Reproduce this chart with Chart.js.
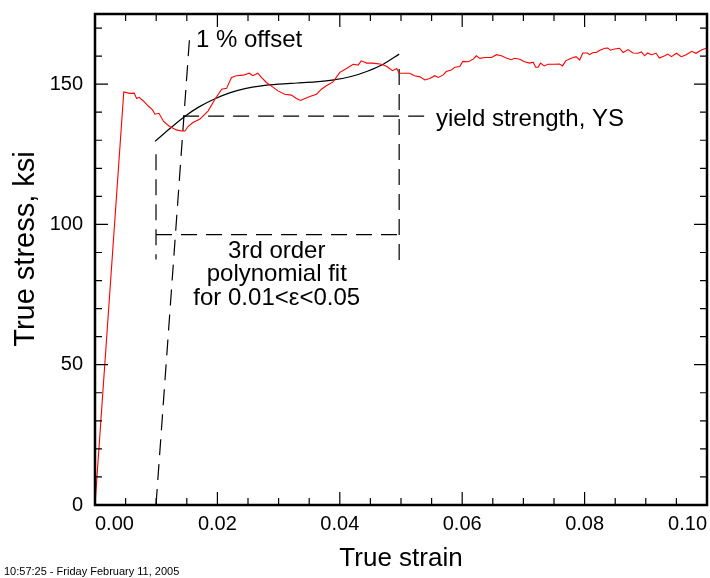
<!DOCTYPE html>
<html>
<head>
<meta charset="utf-8">
<script src="https://cdn.jsdelivr.net/npm/chart.js@4/dist/chart.umd.min.js"></script>
<style>
  body { margin: 0; background: #fff; }
  #wrap { width: 710px; height: 578px; }
</style>
</head>
<body>
<div id="wrap"><canvas id="grafica" width="710" height="578"></canvas></div>
<script>
// curva medida (deformación verdadera, esfuerzo verdadero en ksi)
const strain = [0, 0.0047, 0.0057, 0.0064, 0.0068, 0.0072, 0.0079, 0.0087, 0.0094, 0.0098, 0.01045,
  0.0112, 0.0122, 0.0133, 0.0142, 0.0147, 0.0152, 0.0160, 0.0171, 0.0174, 0.0185, 0.0196, 0.0207,
  0.0215, 0.0223, 0.0231, 0.0242, 0.0252, 0.0258, 0.0266, 0.0272, 0.0280, 0.0289, 0.0299, 0.0310,
  0.0321, 0.0329, 0.0336, 0.0343, 0.0351, 0.0362, 0.0370, 0.0378, 0.0389, 0.0400, 0.0411, 0.0422,
  0.0430, 0.0435, 0.0444, 0.0454, 0.0468, 0.0477, 0.0486, 0.0493, 0.0497, 0.0503, 0.0514, 0.0522,
  0.0531, 0.0539, 0.0547, 0.0555, 0.0561, 0.0569, 0.0574, 0.0582, 0.0588, 0.0596, 0.0601, 0.0610,
  0.0618, 0.0623, 0.0629, 0.0637, 0.0648, 0.0656, 0.0664, 0.0672, 0.0680, 0.0686, 0.0694, 0.0702,
  0.0710, 0.0716, 0.0720, 0.0724, 0.0728, 0.0734, 0.0740, 0.0751, 0.0759, 0.0764, 0.0769, 0.0778,
  0.0786, 0.0792, 0.0797, 0.0805, 0.0808, 0.0814, 0.0819, 0.0825, 0.0833, 0.0838, 0.0842, 0.0849,
  0.0857, 0.0863, 0.0871, 0.0879, 0.0887, 0.0893, 0.0898, 0.0903, 0.0909, 0.0917, 0.0922, 0.0931,
  0.0936, 0.0942, 0.0950, 0.0958, 0.0966, 0.0975, 0.0982, 0.0991, 0.1000];
const stress = [0, 147.2, 146.7, 146.8, 144.9, 145.3, 144.0, 142.2, 140.8, 139.3, 139.6,
  136.7, 134.9, 133.7, 133.3, 133.3, 134.9, 136.3, 137.5, 138.1, 140.5, 144.6, 148.2,
  148.5, 152.4, 153.0, 153.2, 153.9, 153.0, 153.9, 152.4, 150.6, 149.2, 147.6, 146.4,
  146.1, 144.9, 144.2, 144.9, 145.6, 146.4, 148.2, 149.4, 150.8, 154.2, 155.6, 157.1,
  156.8, 158.3, 157.5, 157.5, 157.1, 156.3, 154.8, 155.6, 153.9, 153.9, 153.9, 153.0,
  152.6, 151.5, 152.0, 153.0, 152.4, 153.3, 154.5, 155.0, 156.0, 156.3, 158.1, 158.0,
  158.9, 160.1, 159.2, 159.5, 159.5, 160.5, 160.1, 159.3, 158.7, 159.2, 158.9, 158.0,
  157.5, 157.8, 156.0, 156.0, 157.5, 156.5, 157.1, 157.1, 157.2, 156.5, 158.3, 159.2,
  159.8, 158.6, 161.1, 161.1, 160.5, 161.3, 161.3, 162.1, 162.8, 162.9, 162.1, 162.5,
  162.8, 161.3, 162.3, 161.1, 161.0, 161.5, 160.1, 161.1, 160.5, 161.0, 159.3, 160.1,
  160.7, 159.8, 161.0, 159.8, 160.5, 161.7, 161.0, 162.2, 162.9];

// ajuste polinómico de 3er orden
const fitStrain = [0.0098, 0.0123, 0.0146, 0.0170, 0.0196, 0.0220, 0.0245, 0.0272, 0.0300,
  0.0330, 0.0360, 0.0390, 0.0420, 0.0445, 0.0471, 0.0497];
const fitStress = [129.6, 134.3, 138.4, 141.9, 144.8, 146.9, 148.4, 149.4, 150.0,
  150.4, 150.8, 151.5, 152.8, 154.6, 157.1, 160.7];

// líneas auxiliares a trazos
const offsetStrain = [0.00997, 0.0155];
const offsetStress = [0, 168];
const ysStrain = [0.0144, 0.0544];
const ysStress = [138.6, 138.6];
const fitLoStrain = [0.00997, 0.00997];
const fitLoStress = [125, 87.5];
const fitHiStrain = [0.0497, 0.0497];
const fitHiStress = [155.4, 86.8];
const boxStrain = [0.00997, 0.0497];
const boxStress = [96.4, 96.4];

// etiquetas de los ejes
const xTicks = [0, 0.02, 0.04, 0.06, 0.08, 0.10];
const yTicks = [0, 50, 100, 150];

const fontFam = "'Liberation Sans', Arial, sans-serif";
const pts = (xs, ys) => xs.map((v, i) => ({ x: v, y: ys[i] }));

function dashed(xs, ys) {
  return {
    data: pts(xs, ys), showLine: true, borderColor: "#000", borderWidth: 1.2,
    borderDash: [16, 9], pointRadius: 0, fill: false
  };
}

// marco, marcas interiores y textos
const extras = {
  id: "extras",
  afterDraw(chart) {
    const { ctx, chartArea: a, scales: { x, y } } = chart;
    ctx.save();
    ctx.strokeStyle = "#000";
    ctx.lineWidth = 1.2;
    ctx.beginPath();
    for (let i = 0; i <= 20; i++) {
      const px = x.getPixelForValue(i * 0.005);
      const len = i % 4 === 0 ? 13 : 7;
      ctx.moveTo(px, a.bottom); ctx.lineTo(px, a.bottom - len);
      ctx.moveTo(px, a.top); ctx.lineTo(px, a.top + len);
    }
    for (let i = 0; i <= 17; i++) {
      const py = y.getPixelForValue(i * 10);
      const len = i % 5 === 0 ? 13 : 7;
      ctx.moveTo(a.left, py); ctx.lineTo(a.left + len, py);
      ctx.moveTo(a.right, py); ctx.lineTo(a.right - len, py);
    }
    ctx.stroke();

    ctx.lineWidth = 2.5;
    ctx.strokeRect(a.left, a.top, a.right - a.left, a.bottom - a.top);

    ctx.fillStyle = "#000";
    ctx.font = "24px " + fontFam;
    ctx.textBaseline = "alphabetic";
    ctx.textAlign = "left";
    ctx.fillText("1 % offset", x.getPixelForValue(0.0165), y.getPixelForValue(163.2));
    ctx.fillText("yield strength, YS", x.getPixelForValue(0.0557), y.getPixelForValue(135));
    ctx.textAlign = "center";
    const cx = x.getPixelForValue(0.0297);
    ctx.fillText("3rd order", cx, y.getPixelForValue(88.2));
    ctx.fillText("polynomial fit", cx, y.getPixelForValue(79.8));
    ctx.fillText("for 0.01<\u03b5<0.05", cx, y.getPixelForValue(71.4));

    // título del eje Y
    ctx.save();
    ctx.translate(26, 249);
    ctx.rotate(-Math.PI / 2);
    ctx.font = "29px " + fontFam;
    ctx.textBaseline = "middle";
    ctx.fillText("True stress, ksi", 0, 0);
    ctx.restore();

    ctx.textAlign = "left";
    ctx.font = "11px " + fontFam;
    ctx.fillText("10:57:25 - Friday February 11, 2005", 4, 575);
    ctx.restore();
  }
};

const chart = new Chart(document.getElementById("grafica").getContext("2d"), {
  type: "scatter",
  data: {
    datasets: [
      { data: pts(strain, stress), showLine: true, borderColor: "#ff0000", borderWidth: 1.1, pointRadius: 0, fill: false },
      { data: pts(fitStrain, fitStress), showLine: true, borderColor: "#000", borderWidth: 1.2, pointRadius: 0, fill: false, cubicInterpolationMode: "monotone" },
      dashed(offsetStrain, offsetStress),
      dashed(ysStrain, ysStress),
      dashed(fitLoStrain, fitLoStress),
      dashed(fitHiStrain, fitHiStress),
      dashed(boxStrain, boxStress)
    ]
  },
  options: {
    responsive: false,
    animation: false,
    layout: { padding: { top: 14, right: 3, left: 0, bottom: 0 } },
    plugins: { legend: { display: false }, tooltip: { enabled: false } },
    scales: {
      x: {
        type: "linear", min: 0, max: 0.1,
        afterFit(s) { s.height = 73; s.paddingLeft = 0; s.paddingRight = 0; },
        afterBuildTicks(s) { s.ticks = xTicks.map(v => ({ value: v })); },
        grid: { display: false, drawTicks: false },
        border: { display: false },
        ticks: {
          align: "inner", padding: 7, color: "#000", maxRotation: 0,
          font: { family: fontFam, size: 20 },
          callback: v => v.toFixed(2)
        },
        title: { display: true, text: "True strain", color: "#000", padding: { top: 4 }, font: { family: fontFam, size: 26 } }
      },
      y: {
        type: "linear", min: 0, max: 175,
        afterFit(s) { s.width = 95; s.paddingTop = 0; s.paddingBottom = 0; },
        afterBuildTicks(s) { s.ticks = yTicks.map(v => ({ value: v })); },
        grid: { display: false, drawTicks: false },
        border: { display: false },
        ticks: { padding: 12, color: "#000", font: { family: fontFam, size: 20 } },
        title: { display: false }
      }
    }
  },
  plugins: [extras]
});
</script>
</body>
</html>
